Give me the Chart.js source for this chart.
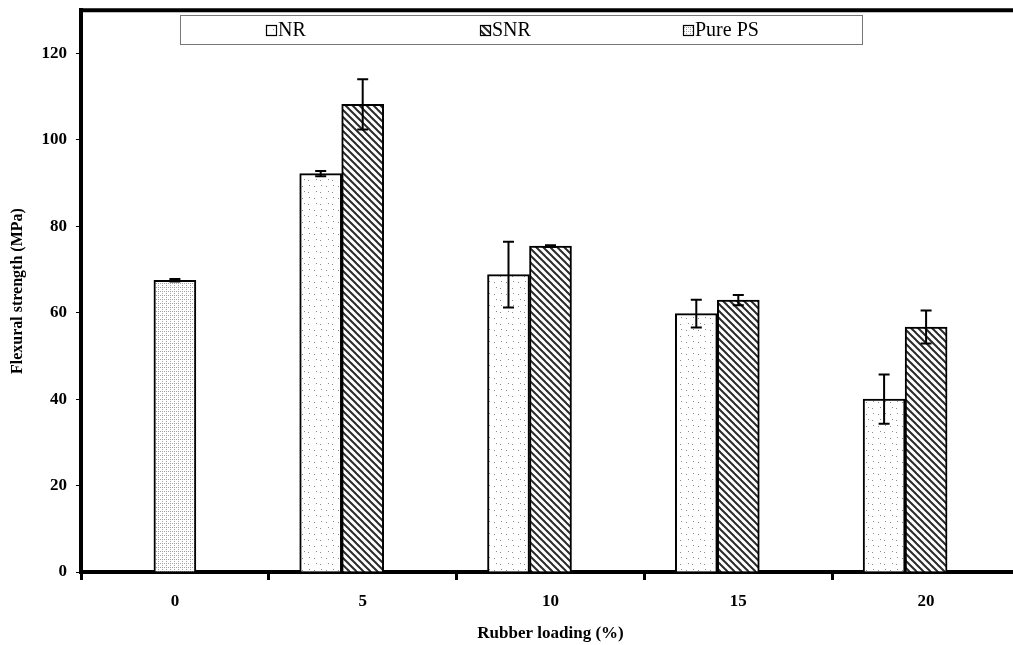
<!DOCTYPE html>
<html>
<head>
<meta charset="utf-8">
<script src="https://cdn.jsdelivr.net/npm/chart.js@4/dist/chart.umd.min.js"></script>
<style>
html,body{margin:0;padding:0;background:#fff;overflow:hidden;}
#wrap{position:relative;width:1020px;height:654px;margin-top:-9px;}
</style>
</head>
<body>
<div id="wrap"><canvas id="c"></canvas></div>
<script>
// ---- data ----
const categories = ['0', '5', '10', '15', '20'];
const nrValues   = [null, 92.2, 68.8, 59.8, 40.0];
const nrErrors   = [null, 0.6, 7.6, 3.2, 5.7];
const snrValues  = [null, 108.2, 75.4, 62.9, 56.7];
const snrErrors  = [null, 5.8, 0.2, 1.2, 3.8];
const psValues   = [67.5, null, null, null, null];
const psErrors   = [0.3, null, null, null, null];
const emptySlot  = [null, null, null, null, null];
const yTicks     = [0, 20, 40, 60, 80, 100, 120];
const legendLabels = ['NR', 'SNR', 'Pure PS'];

const SERIF = '"Liberation Serif", "Times New Roman", serif';
const SHIFT = 9; // canvas is shifted up by this many pixels

function makePattern(kind){
  const c = document.createElement('canvas');
  const x = c.getContext('2d');
  if (kind === 'nr'){
    c.width = 12; c.height = 12;
    x.fillStyle = '#fff'; x.fillRect(0,0,12,12);
    x.fillStyle = '#8a8a8a';
    x.fillRect(2,3,1,1); x.fillRect(8,9,1,1); x.fillRect(9,2,1,1); x.fillRect(4,8,1,1);
  } else if (kind === 'ps'){
    c.width = 4; c.height = 4;
    x.fillStyle = '#fff'; x.fillRect(0,0,4,4);
    x.fillStyle = '#a0a0a0';
    x.fillRect(0,0,1,1); x.fillRect(2,2,1,1); x.fillRect(2,0,1,1);
  } else {
    c.width = 7; c.height = 7;
    x.fillStyle = '#fff'; x.fillRect(0,0,7,7);
    x.strokeStyle = '#2a2a2a'; x.lineWidth = 2;
    for (const o of [-7,0,7]){
      x.beginPath(); x.moveTo(o-1,-1); x.lineTo(o+8,8); x.stroke();
    }
  }
  return x.createPattern(c, 'repeat');
}
const patNR = makePattern('nr');
const patSNR = makePattern('snr');
const patPS = makePattern('ps');
const fills = [patNR, patSNR, patPS];

const errorBars = {
  id: 'errorBars',
  afterDatasetsDraw(chart){
    const ctx = chart.ctx, y = chart.scales.y;
    const errs = [nrErrors, snrErrors, psErrors];
    const vals = [nrValues, snrValues, psValues];
    ctx.save();
    ctx.strokeStyle = '#000'; ctx.lineWidth = 2;
    for (let d = 0; d < 3; d++){
      const meta = chart.getDatasetMeta(d);
      vals[d].forEach((v, i) => {
        if (v == null || errs[d][i] == null) return;
        const px = meta.data[i].x;
        const top = y.getPixelForValue(v + errs[d][i]);
        const bot = y.getPixelForValue(v - errs[d][i]);
        ctx.beginPath();
        ctx.moveTo(px, top); ctx.lineTo(px, bot);
        ctx.moveTo(px-5.5, top); ctx.lineTo(px+5.5, top);
        ctx.moveTo(px-5.5, bot); ctx.lineTo(px+5.5, bot);
        ctx.stroke();
      });
    }
    ctx.restore();
  }
};

const frame = {
  id: 'frame',
  beforeDraw(chart){
    const ctx = chart.ctx;
    ctx.save(); ctx.fillStyle = '#fff'; ctx.fillRect(0,0,chart.width,chart.height); ctx.restore();
  },
  afterDraw(chart){
    const ctx = chart.ctx, a = chart.chartArea;
    ctx.save();
    ctx.strokeStyle = '#000'; ctx.lineWidth = 4;
    ctx.beginPath(); ctx.moveTo(a.left - 2, a.top); ctx.lineTo(chart.width, a.top); ctx.stroke();
    // legend box
    ctx.lineWidth = 1; ctx.strokeStyle = '#777';
    ctx.strokeRect(180.5, 15.5 + SHIFT, 682, 29);
    const xs = [266, 480, 683];
    ctx.font = '20px ' + SERIF; ctx.textBaseline = 'middle'; ctx.fillStyle = '#000';
    legendLabels.forEach((t, i) => {
      ctx.fillStyle = fills[i]; ctx.fillRect(xs[i], 25 + SHIFT, 10, 10);
      ctx.strokeStyle = '#000'; ctx.lineWidth = 1.2; ctx.strokeRect(xs[i] + 0.5, 25.5 + SHIFT, 10, 10);
      ctx.fillStyle = '#000'; ctx.fillText(t, xs[i] + 12, 31 + SHIFT);
    });
    ctx.restore();
  }
};

const common = { borderColor: '#000', borderWidth: 2, borderSkipped: 'bottom', barThickness: 42 };

new Chart(document.getElementById('c'), {
  type: 'bar',
  data: {
    labels: categories,
    datasets: [
      Object.assign({ label: legendLabels[0], data: nrValues, backgroundColor: patNR, stack: 'a' }, common),
      Object.assign({ label: legendLabels[1], data: snrValues, backgroundColor: patSNR, stack: 'b' }, common),
      Object.assign({ label: legendLabels[2], data: psValues, backgroundColor: patPS, stack: 'b' }, common),
      Object.assign({ label: '', data: emptySlot, backgroundColor: '#fff', stack: 'c' }, common)
    ]
  },
  options: {
    responsive: true,
    maintainAspectRatio: false,
    animation: false,
    devicePixelRatio: 1,
    layout: { padding: { top: 0, left: 0, right: 0, bottom: 0 } },
    plugins: { legend: { display: false }, tooltip: { enabled: false } },
    scales: {
      x: {
        offset: true,
        grid: { display: true, offset: true, drawOnChartArea: false, drawTicks: true, tickLength: 8, color: '#000', lineWidth: 3 },
        border: { display: true, color: '#000', width: 4 },
        ticks: { color: '#000', font: { family: SERIF, size: 17, weight: 'bold' }, padding: 11, maxRotation: 0 },
        title: { display: true, text: 'Rubber loading (%)', color: '#000', font: { family: SERIF, size: 17, weight: 'bold' }, padding: { top: 0, bottom: 1 } },
        afterFit(s){ s.height = 73; }
      },
      y: {
        stacked: false,
        min: 0, max: 130,
        afterBuildTicks(s){ s.ticks = yTicks.map(v => ({ value: v })); },
        grid: { display: true, drawOnChartArea: false, drawTicks: true, tickLength: 5, color: '#000', lineWidth: 1 },
        border: { display: true, color: '#000', width: 4 },
        ticks: { color: '#000', font: { family: SERIF, size: 17, weight: 'bold' }, padding: 9 },
        title: { display: true, text: 'Flexural strength (MPa)', color: '#000', font: { family: SERIF, size: 16, weight: 'bold' }, padding: { top: 8, bottom: 0 } },
        afterFit(s){ s.width = 81; }
      }
    }
  },
  plugins: [frame, errorBars]
});
</script>
</body>
</html>
